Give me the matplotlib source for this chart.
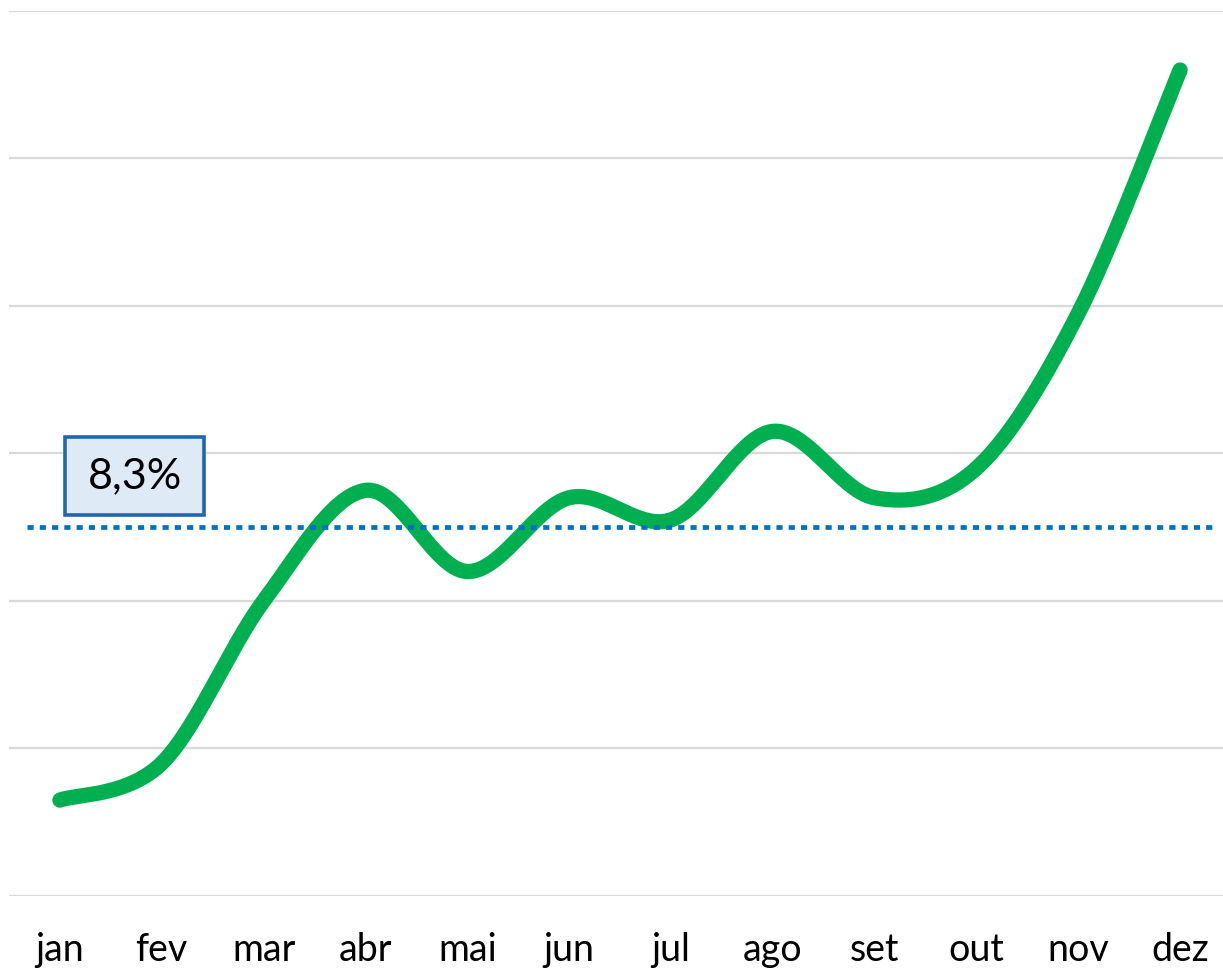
import numpy as np
import matplotlib
matplotlib.use("Agg")
import matplotlib.pyplot as plt
from matplotlib.patches import Rectangle

months = ["jan", "fev", "mar", "abr", "mai", "jun", "jul", "ago", "set", "out", "nov", "dez"]
values = [7.93, 7.98, 8.20, 8.35, 8.24, 8.34, 8.31, 8.43, 8.34, 8.38, 8.59, 8.92]
average = 8.3
avg_label = "8,3%"
y_grid = [7.8, 8.0, 8.2, 8.4, 8.6, 8.8, 9.0]

plt.rcParams['font.family'] = ['Lato', 'DejaVu Sans']

W, H = 1223, 973
fig = plt.figure(figsize=(W / 100, H / 100), dpi=100)
fig.patch.set_facecolor("white")

left_px, right_px = 9, 1231
bottom_px, top_px = 896, 11
ax = fig.add_axes([left_px / W, (H - bottom_px) / H,
                   (right_px - left_px) / W, (bottom_px - top_px) / H])
ax.set_xlim(-0.5, len(months) - 0.5)
ax.set_ylim(y_grid[0], y_grid[-1])
for s in ax.spines.values():
    s.set_visible(False)
ax.set_yticks(y_grid)
ax.set_yticklabels([])
ax.tick_params(axis="y", length=0)
ax.yaxis.grid(True, color="#D9D9D9", linewidth=1.6)
ax.set_axisbelow(True)
ax.set_xticks(range(len(months)))
ax.set_xticklabels(months, fontsize=27, color="black")
ax.tick_params(axis="x", length=0, pad=26)

# Excel-like smoothing (Catmull-Rom / Bezier)
x = np.arange(len(values), dtype=float)
y = np.array(values, dtype=float)
pts = np.column_stack([x, y])
curve = []
n = len(pts)
t = np.linspace(0, 1, 40)
for i in range(n - 1):
    p0 = pts[i - 1] if i > 0 else pts[i]
    p1 = pts[i]
    p2 = pts[i + 1]
    p3 = pts[i + 2] if i + 2 < n else pts[i + 1]
    c1 = p1 + (p2 - p0) / 6.0
    c2 = p2 - (p3 - p1) / 6.0
    seg = ((1 - t) ** 3)[:, None] * p1 + (3 * (1 - t) ** 2 * t)[:, None] * c1 \
        + (3 * (1 - t) * t ** 2)[:, None] * c2 + (t ** 3)[:, None] * p2
    curve.append(seg if i == 0 else seg[1:])
curve = np.vstack(curve)
ax.plot(curve[:, 0], curve[:, 1], color="#00B050", linewidth=11,
        solid_capstyle="round", solid_joinstyle="round", zorder=3)

# average line
ax.plot([-0.32, 11.35], [average, average], color="#0070C0", linewidth=3.4,
        linestyle=(0, (1.3, 1.3)), dash_capstyle="butt", zorder=4)

# label box
bx0, by0, bw, bh = 65, 515, 139, 78
rect = Rectangle((bx0 / W, (H - by0) / H), bw / W, bh / H, transform=fig.transFigure,
                 facecolor="#DEEBF7", edgecolor="#1F66B0", linewidth=2.6, zorder=5)
fig.patches.append(rect)
fig.text((bx0 + bw / 2) / W, (H - by0 + bh / 2) / H, avg_label, fontsize=31,
         ha="center", va="center", color="black", zorder=6)

fig.savefig("out.png", dpi=100, facecolor="white")
